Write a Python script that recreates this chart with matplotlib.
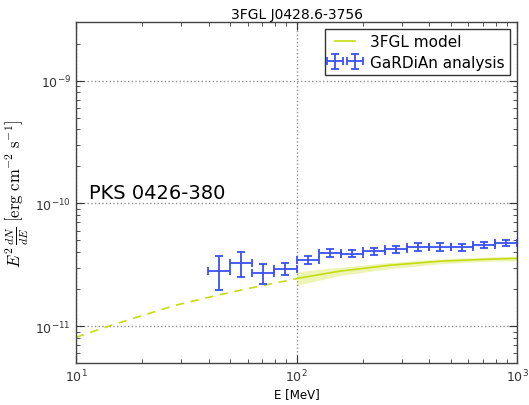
import matplotlib
matplotlib.use("Agg")
import matplotlib.pyplot as plt
import numpy as np

# GaRDiAn analysis bins (MeV) and E^2 dN/dE (erg cm^-2 s^-1)
bin_lo = [39.8, 50.1, 63.1, 79.4, 100.0, 125.9, 158.5, 199.5, 251.2, 316.2, 398.1, 501.2, 631.0, 794.3]
bin_hi = [50.1, 63.1, 79.4, 100.0, 125.9, 158.5, 199.5, 251.2, 316.2, 398.1, 501.2, 631.0, 794.3, 1000.0]
bin_c = [44.7, 56.2, 70.8, 89.1, 112.2, 141.3, 177.8, 223.9, 281.8, 354.8, 446.7, 562.3, 707.9, 891.3]
flux = [2.82e-11, 3.24e-11, 2.70e-11, 2.91e-11, 3.43e-11, 3.94e-11, 3.88e-11, 4.08e-11,
        4.21e-11, 4.40e-11, 4.40e-11, 4.37e-11, 4.57e-11, 4.72e-11]
flux_lo = [1.96e-11, 2.49e-11, 2.22e-11, 2.60e-11, 3.20e-11, 3.65e-11, 3.65e-11, 3.81e-11,
           3.94e-11, 4.11e-11, 4.11e-11, 4.08e-11, 4.30e-11, 4.46e-11]
flux_hi = [3.74e-11, 3.98e-11, 3.18e-11, 3.28e-11, 3.72e-11, 4.21e-11, 4.16e-11, 4.35e-11,
           4.51e-11, 4.72e-11, 4.72e-11, 4.66e-11, 4.83e-11, 5.02e-11]

# 3FGL model: extrapolated (dashed) below 100 MeV, solid with band above
model_ext_E = [10.0, 14.1, 20.0, 28.4, 40.2, 57.0, 80.7, 100.0]
model_ext_F = [8.1e-12, 1.0e-11, 1.22e-11, 1.48e-11, 1.72e-11, 1.98e-11, 2.25e-11, 2.43e-11]
model_E = [100.0, 157.0, 265.0, 448.0, 755.0, 1000.0]
model_F = [2.44e-11, 2.80e-11, 3.13e-11, 3.38e-11, 3.51e-11, 3.56e-11]
model_F_lo = [2.15e-11, 2.58e-11, 2.94e-11, 3.22e-11, 3.38e-11, 3.40e-11]
model_F_hi = [2.77e-11, 3.02e-11, 3.30e-11, 3.52e-11, 3.66e-11, 3.72e-11]

title = "3FGL J0428.6-3756"
source_name = "PKS 0426-380"

model_color = "#c5dc10"
data_color = "#3c50f5"

fig = plt.figure(figsize=(5.29, 4.06), dpi=100)
ax = fig.add_axes([0.1437, 0.1034, 0.8336, 0.8399])

ax.fill_between(model_E, model_F_lo, model_F_hi, color=model_color, alpha=0.3, lw=0)
ax.plot(model_E, model_F, color=model_color, lw=1.2, label="3FGL model")
ax.plot(model_ext_E, model_ext_F, color=model_color, lw=1.2, ls=(0, (5, 4)))

bc = np.array(bin_c)
fl = np.array(flux)
xerr = [bc - np.array(bin_lo), np.array(bin_hi) - bc]
yerr = [fl - np.array(flux_lo), np.array(flux_hi) - fl]
ax.errorbar(bc, fl, xerr=xerr, yerr=yerr, fmt="none", ecolor=data_color, elinewidth=1.3,
            capsize=3, capthick=1.3, label="GaRDiAn analysis")

ax.set_xscale("log")
ax.set_yscale("log")
ax.set_xlim(10, 1000)
ax.set_ylim(5e-12, 3e-9)

ax.grid(True, which="major", ls=":", color="#909090", lw=1.0)
ax.tick_params(which="both", direction="in", top=True, right=True, labelsize=9, colors="#333333")
ax.tick_params(which="major", length=6)
ax.tick_params(which="minor", length=3)
for s in ax.spines.values():
    s.set_color("#444444")
    s.set_linewidth(1.0)

ax.set_title(title, fontsize=10, pad=3)
ax.set_xlabel("E [MeV]", fontsize=8.5, labelpad=2)
ax.set_ylabel(r"$E^2\,\frac{dN}{dE}\ \left[\mathrm{erg\ cm^{-2}\ s^{-1}}\right]$", fontsize=12,
              math_fontfamily="cm", labelpad=3)

ax.text(0.03, 0.50, source_name, transform=ax.transAxes, fontsize=14, va="center", ha="left")

leg = ax.legend(loc="upper right", numpoints=2, fontsize=11, fancybox=False, framealpha=1,
                edgecolor="#333333", borderaxespad=0.45, handlelength=1.9,
                borderpad=0.35, labelspacing=0.35, handletextpad=0.7)
leg.get_frame().set_linewidth(1.0)

fig.savefig("out.png", dpi=100, facecolor="white")
